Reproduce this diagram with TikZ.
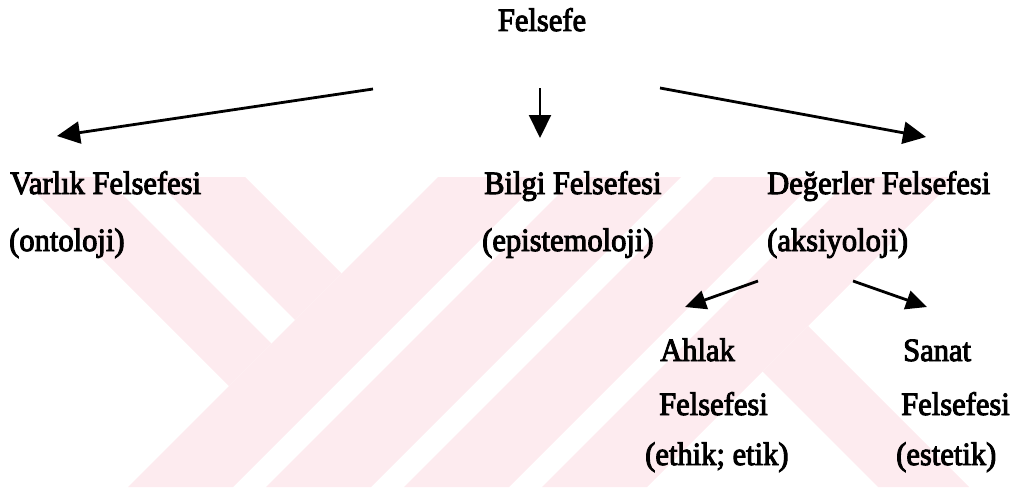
\documentclass[tikz,border=0pt]{standalone}
\usepackage{fontspec}
\setmainfont[FakeBold=3, FakeStretch=0.94]{Liberation Serif}
\usetikzlibrary{arrows.meta}
\definecolor{wmark}{RGB}{253,235,239}
\tikzset{
  lbl/.style={inner sep=0pt, anchor=base west, font=\fontsize{32.5}{38}\selectfont},
  bigarrow/.style={line width=2.8pt, -{Triangle[length=23pt,width=22pt]}},
  smallarrow/.style={line width=2.8pt, -{Triangle[length=21pt,width=19pt]}}
}
\begin{document}
\begin{tikzpicture}[x=1pt,y=-1pt]
\useasboundingbox (0,0) rectangle (1011,487);
% faint background emblem made of diagonal bands
\begin{scope}
\clip (0,177) rectangle (1011,487);
\fill[wmark] (20,177) -- (105,177) -- (271.5,343.5) -- (229,386) -- cycle;
\fill[wmark] (152,177) -- (245,177) -- (341.5,273.5) -- (295,320) -- cycle;
\foreach \a/\b in {615/720, 753/858, 891/996, 1029/1134}
  \fill[wmark] (\a-177,177) -- (\b-177,177) -- (\b-487,487) -- (\a-487,487) -- cycle;
\fill[wmark] (762.5,371.5) -- (808,326) -- (969,487) -- (878,487) -- cycle;
\end{scope}
% labels
\node[lbl, anchor=base] (root) at (542,31) {Felsefe};
\node[lbl] (v1) at (10,194) {Varlık Felsefesi};
\node[lbl] (v2) at (9,251) {(ontoloji)};
\node[lbl] (b1) at (484,194) {Bilgi Felsefesi};
\node[lbl] (b2) at (482,251) {(epistemoloji)};
\node[lbl] (d1) at (767,194) {Değerler Felsefesi};
\node[lbl] (d2) at (767,251) {(aksiyoloji)};
\node[lbl] (a1) at (660,361) {Ahlak};
\node[lbl] (a2) at (659,415) {Felsefesi};
\node[lbl] (a3) at (645,465) {(ethik; etik)};
\node[lbl] (s1) at (903,361) {Sanat};
\node[lbl] (s2) at (901,415) {Felsefesi};
\node[lbl] (s3) at (896,465) {(estetik)};
% connectors
\coordinate (lA) at (373,89);  \coordinate (lB) at (57,136);
\coordinate (mA) at (540,88);  \coordinate (mB) at (540,138);
\coordinate (rA) at (660,88);  \coordinate (rB) at (926,137);
\coordinate (sA) at (758,281); \coordinate (sB) at (685,307);
\coordinate (tA) at (853,281); \coordinate (tB) at (927,307);
\draw[bigarrow] (lA) -- (lB);
\draw[bigarrow, line width=2.2pt] (mA) -- (mB);
\draw[bigarrow] (rA) -- (rB);
\draw[smallarrow] (sA) -- (sB);
\draw[smallarrow] (tA) -- (tB);
\end{tikzpicture}
\end{document}
